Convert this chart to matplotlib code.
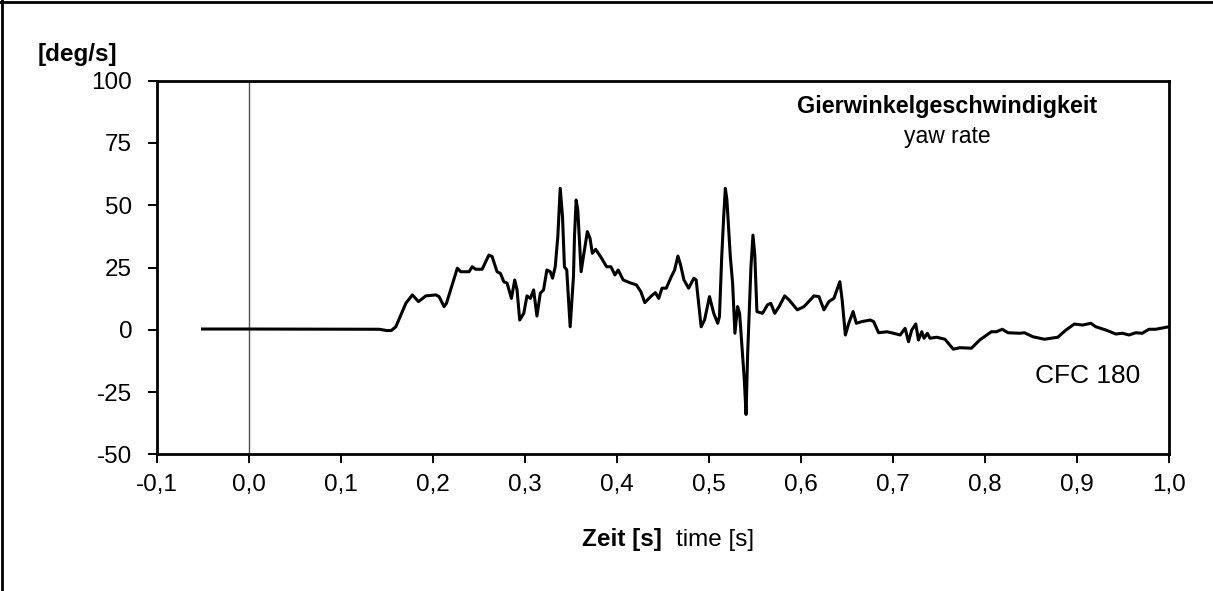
import matplotlib
matplotlib.use("Agg")
import matplotlib.pyplot as plt
from matplotlib.lines import Line2D

plt.rcParams['font.family'] = ['Liberation Sans', 'DejaVu Sans']
plt.rcParams['axes.unicode_minus'] = False

time_s = [-0.050, 0.000, 0.142, 0.150, 0.155, 0.160, 0.171, 0.178, 0.1846, 0.1926, 0.2035, 0.207, 0.2124,
          0.2150, 0.2268, 0.2305, 0.2395, 0.243, 0.2467, 0.2538, 0.2611, 0.2646, 0.270, 0.2737, 0.2773,
          0.2809, 0.2856, 0.2892, 0.2917, 0.2946, 0.299, 0.3025, 0.3062, 0.3097, 0.3133, 0.317, 0.3205,
          0.3241, 0.3278, 0.3303, 0.3332, 0.336, 0.3386, 0.3411, 0.3432, 0.3457, 0.3494, 0.3511, 0.353,
          0.3541, 0.3559, 0.3577, 0.3613, 0.3638, 0.3681, 0.371, 0.3735, 0.3771, 0.3836, 0.389, 0.3937,
          0.398, 0.4016, 0.407, 0.4142, 0.4214, 0.4262, 0.4305, 0.4377, 0.442, 0.4456, 0.4492, 0.4538,
          0.4593, 0.4629, 0.4665, 0.4694, 0.473, 0.4781, 0.4838, 0.4863, 0.4917, 0.4954, 0.5008, 0.5054,
          0.5097, 0.5116, 0.514, 0.5162, 0.518, 0.5197, 0.5234, 0.5259, 0.5284, 0.5313, 0.5335, 0.5386,
          0.5405, 0.5422, 0.5458, 0.548, 0.5500, 0.5523, 0.5584, 0.5638, 0.5674, 0.5717, 0.5764, 0.5825,
          0.5872, 0.5962, 0.6035, 0.6143, 0.6197, 0.6251, 0.6305, 0.6359, 0.6424, 0.6449, 0.6484, 0.6521,
          0.6568, 0.6603, 0.6665, 0.6755, 0.6791, 0.6845, 0.6935, 0.7007, 0.7079, 0.7133, 0.717, 0.7205,
          0.7249, 0.7278, 0.7314, 0.7339, 0.7375, 0.7403, 0.7476, 0.7566, 0.7656, 0.7728, 0.7854, 0.7944,
          0.807, 0.8124, 0.8189, 0.8251, 0.8376, 0.843, 0.8521, 0.8646, 0.8791, 0.8881, 0.8971, 0.9062,
          0.9151, 0.9205, 0.9314, 0.9422, 0.9494, 0.9566, 0.9638, 0.971, 0.9782, 0.9854, 1.000]
yaw_rate = [0.3, 0.3, 0.2, -0.3, -0.3, 1.2, 10.7, 14.0, 11.3, 13.6, 14.0, 13.3, 9.3,
            10.6, 24.7, 23.3, 23.3, 25.3, 24.3, 24.3, 30.0, 29.4, 23.3, 22.6, 19.3,
            18.7, 12.6, 20.0, 16.0, 3.9, 6.6, 13.6, 12.6, 16.0, 5.5, 14.7, 16.0,
            24.0, 23.3, 20.7, 25.3, 37.4, 56.8, 45.4, 25.3, 24.0, 1.2, 10.6, 21.3,
            37.4, 52.1, 48.1, 23.3, 29.4, 39.4, 36.7, 30.7, 32.3, 28.7, 25.3, 25.3,
            22.0, 24.0, 20.0, 18.9, 18.0, 15.3, 10.9, 13.6, 14.9, 12.6, 16.7, 16.7,
            21.3, 24.0, 29.6, 26.0, 20.0, 16.7, 20.7, 20.0, 1.2, 3.9, 13.3, 6.6,
            2.6, 5.3, 28.7, 45.4, 56.8, 52.1, 29.4, 18.7, -1.4, 9.3, 6.6, -20.0,
            -34.0, -10.0, 25.0, 38.0, 30.0, 7.3, 6.6, 10.0, 10.6, 6.6, 9.3, 13.6,
            12.0, 8.0, 9.3, 13.6, 13.3, 8.0, 11.3, 12.6, 19.3, 12.0, -2.1, 2.6,
            7.3, 2.6, 3.3, 3.9, 3.3, -1.2, -0.8, -1.4, -2.1, 0.6, -4.8, -0.1,
            2.3, -4.1, -0.8, -3.4, -1.4, -3.4, -3.0, -3.8, -7.8, -7.2, -7.4, -4.1,
            -0.8, -0.8, 0.2, -1.2, -1.4, -1.2, -2.8, -3.8, -3.0, -0.1, 2.3, 1.9,
            2.6, 1.2, -0.1, -1.7, -1.4, -2.1, -1.2, -1.4, 0.2, 0.2, 1.2]

x_ticks = [-0.1, 0.0, 0.1, 0.2, 0.3, 0.4, 0.5, 0.6, 0.7, 0.8, 0.9, 1.0]
x_tick_labels = ['-0,1', '0,0', '0,1', '0,2', '0,3', '0,4', '0,5', '0,6', '0,7', '0,8', '0,9', '1,0']
y_ticks = [-50, -25, 0, 25, 50, 75, 100]

W, H = 1213, 591
fig = plt.figure(figsize=(W / 100, H / 100), dpi=100)
ax = fig.add_axes([156.5 / W, 1 - 454.3 / H, (1169 - 156.5) / W, (454.3 - 80.7) / H])

ax.axvline(0.0, color='#505050', lw=1.0, zorder=1)
ax.plot(time_s, yaw_rate, color='black', lw=2.2, zorder=3, solid_joinstyle='round')

ax.set_xlim(-0.1, 1.0)
ax.set_ylim(-50, 100)
ax.set_xticks(x_ticks)
ax.set_xticklabels(x_tick_labels)
ax.set_yticks(y_ticks)
ax.tick_params(axis='both', direction='out', length=6.5, width=1.4, labelsize=17.5)
ax.tick_params(axis='y', pad=11)
ax.tick_params(axis='x', pad=8)
for s in ax.spines.values():
    s.set_linewidth(2.0)

fig.text(77.5 / W, 1 - 55 / H, '[deg/s]', fontsize=17.5, fontweight='bold', ha='center', va='center')
fig.text(947.5 / W, 1 - 113 / H, 'Gierwinkelgeschwindigkeit', fontsize=16.8,
         fontweight='bold', ha='center', va='baseline')
fig.text(947.5 / W, 1 - 143 / H, 'yaw rate', fontsize=16.5, ha='center', va='baseline')
fig.text(1087.5 / W, 1 - 383 / H, 'CFC 180', fontsize=19, ha='center', va='baseline')

fig.text(662 / W, 1 - 546 / H, 'Zeit [s]', fontsize=17.5, fontweight='bold', ha='right', va='baseline')
fig.text(676 / W, 1 - 546 / H, 'time [s]', fontsize=17.5, ha='left', va='baseline')

fig.add_artist(Line2D([1.5 / W, 1.5 / W], [0, 1], transform=fig.transFigure, color='black', lw=2))
fig.add_artist(Line2D([0, 1], [1 - 1.5 / H, 1 - 1.5 / H], transform=fig.transFigure, color='black', lw=2))

fig.savefig('out.png', dpi=100)
